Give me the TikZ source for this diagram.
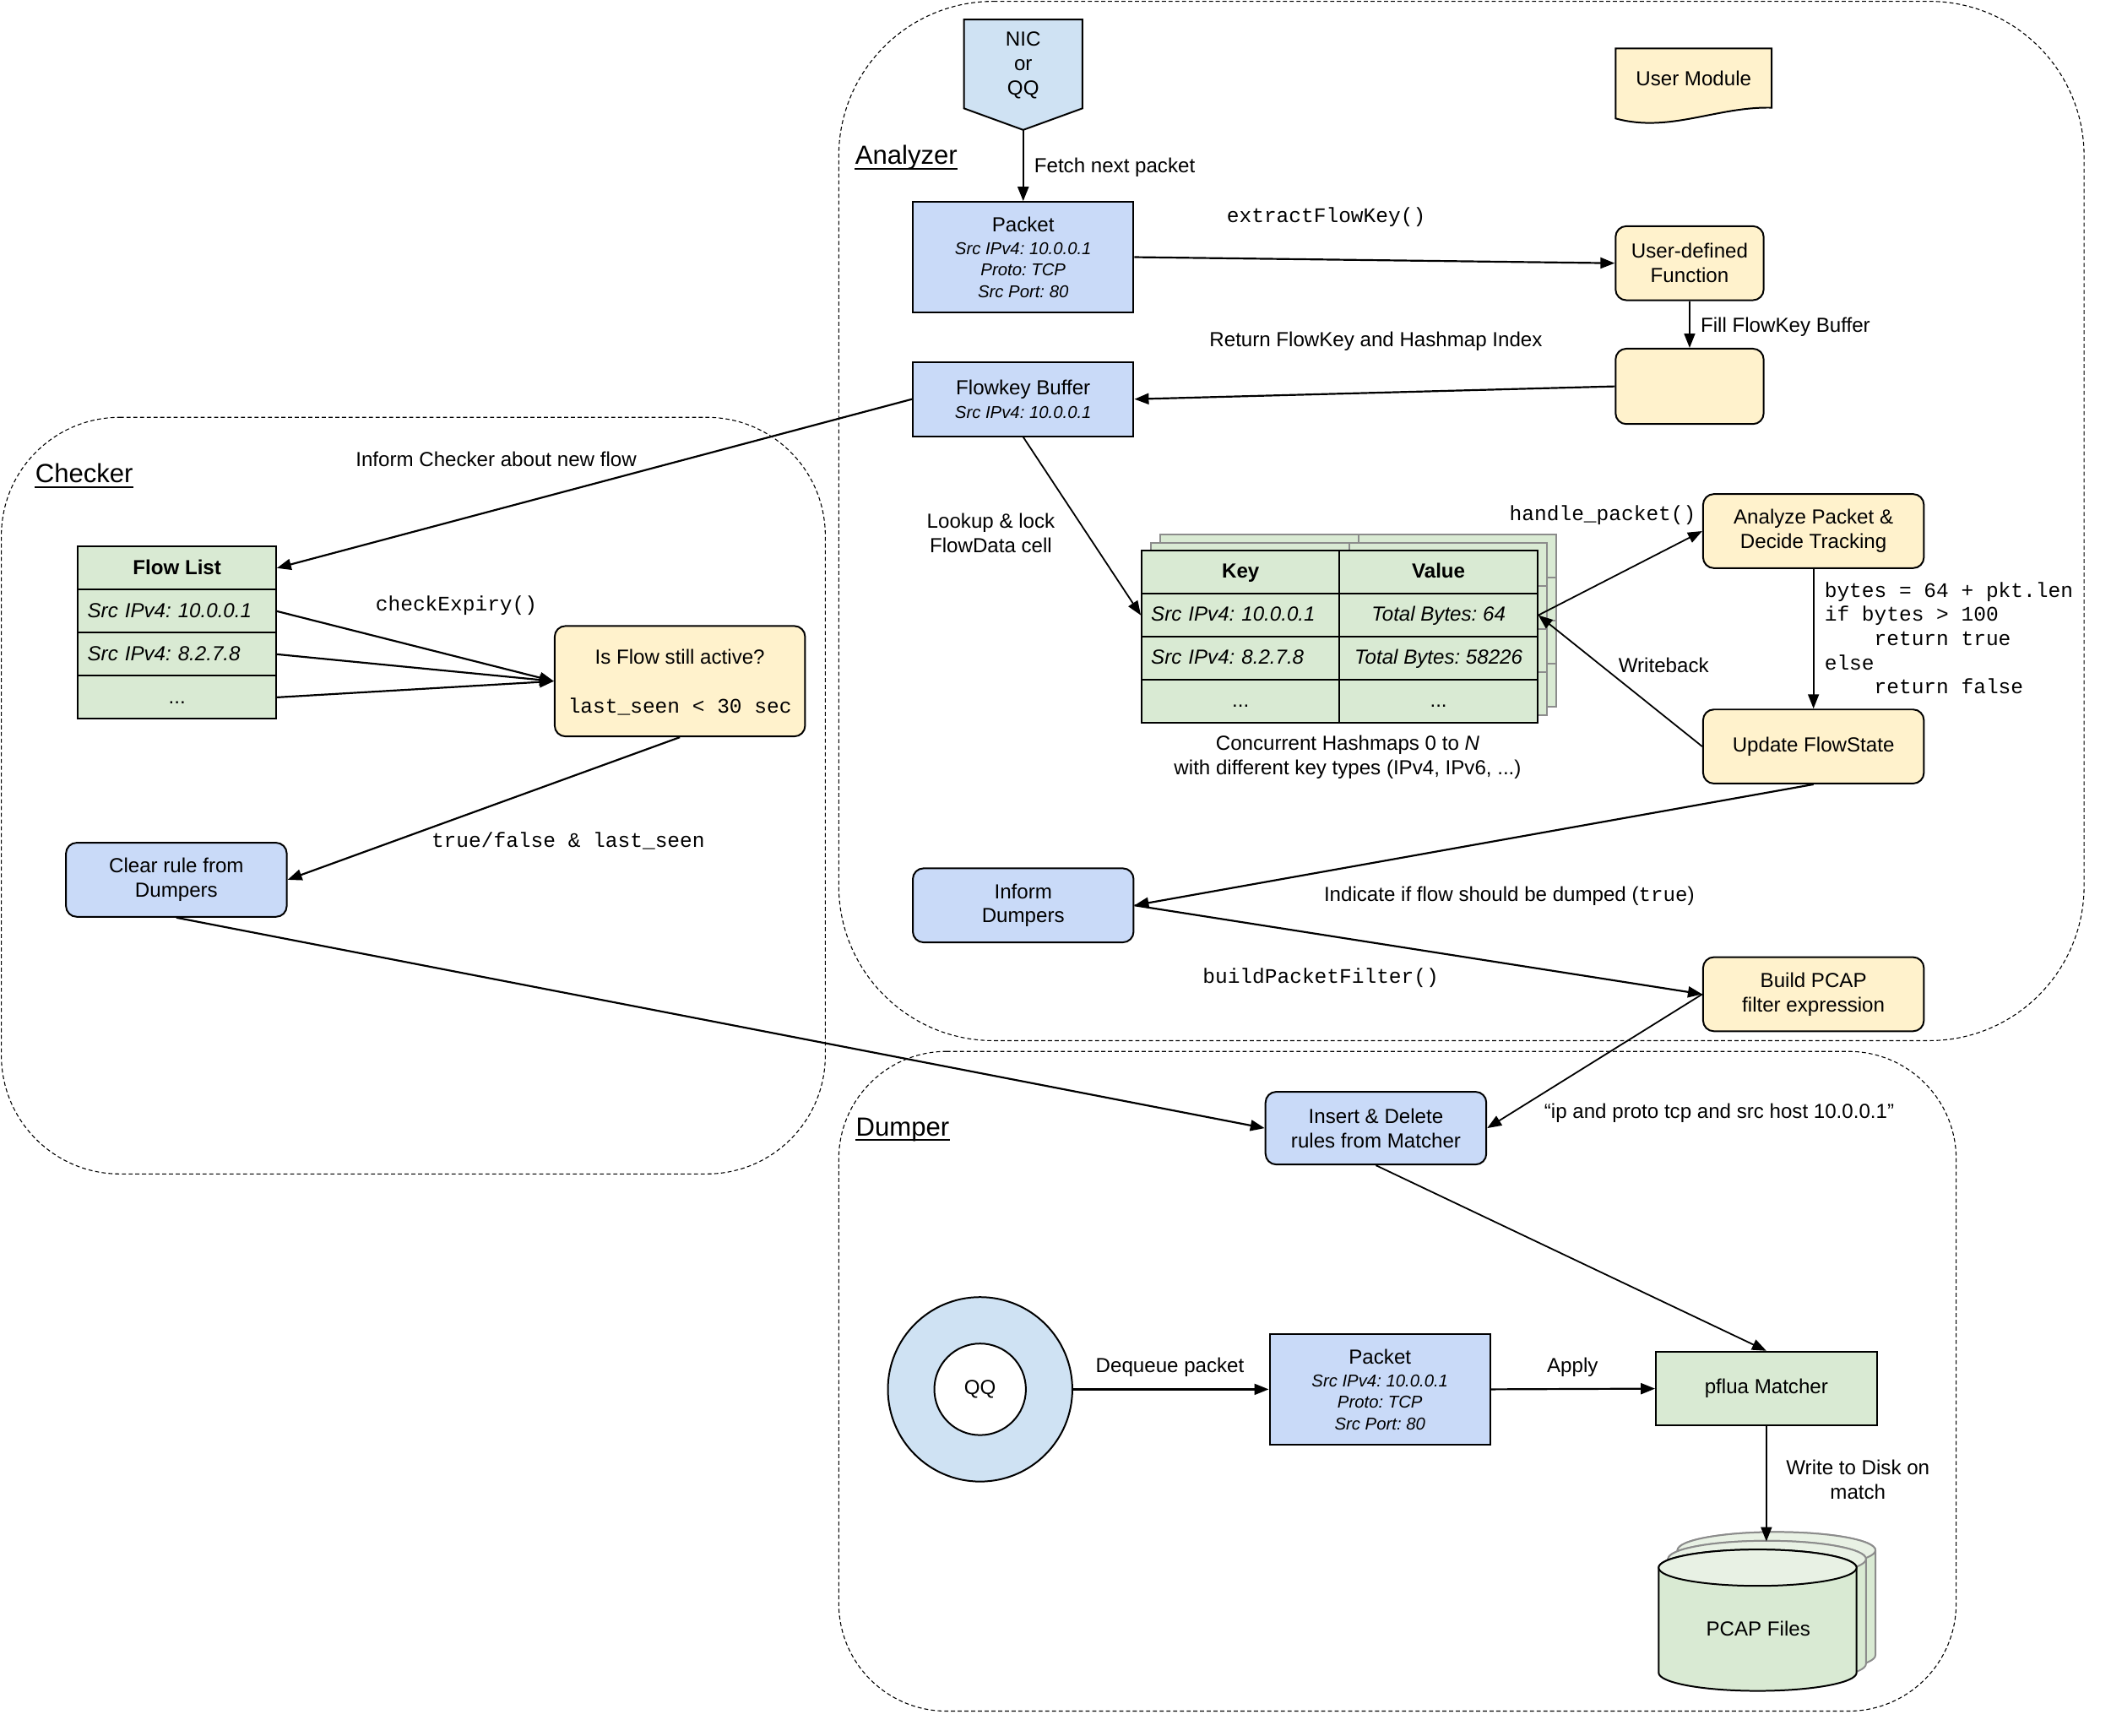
\documentclass[tikz,border=0pt]{standalone}
\usepackage{fontspec}
\setmainfont{Liberation Sans}
\setmonofont{Liberation Mono}
\usetikzlibrary{arrows.meta}
\definecolor{cblue}{HTML}{C9DAF8}
\definecolor{clblue}{HTML}{CFE2F3}
\definecolor{cyel}{HTML}{FFF2CC}
\definecolor{cgreen}{HTML}{D9EAD3}
\definecolor{cgreentop}{HTML}{E8F1E4}
\definecolor{cgrey}{HTML}{8C8C8C}
\newcommand\fnorm{\frenchspacing\fontsize{12.1}{14.4}\selectfont}
\newcommand\fdet{\frenchspacing\itshape\fontsize{10.2}{12.8}\selectfont}
\newcommand\fmono{\frenchspacing\ttfamily\fontsize{12.3}{14.4}\selectfont}
\newcommand\ftitle{\fontsize{15.6}{18}\selectfont}
\newcommand\contbox[5]{%
  \draw[cont] ({#1+#5},#2) -- ({#3-#5},#2)
    arc[start angle=90,end angle=0,radius=#5*0.8pt] -- (#3,{#4-#5})
    arc[start angle=0,end angle=-90,radius=#5*0.8pt] -- ({#1+#5},#4)
    arc[start angle=270,end angle=180,radius=#5*0.8pt] -- (#1,{#2+#5})
    arc[start angle=180,end angle=90,radius=#5*0.8pt] -- cycle;}
\newcommand\drawcyl[6]{%
  \path[draw=#6, fill=cgreen, line width=1pt] ({#1-#4},#2) -- ({#1-#4},#3)
    arc[start angle=180,end angle=360,x radius=#4*0.8pt,y radius=#5*0.8pt]
    -- ({#1+#4},#2)
    arc[start angle=0,end angle=180,x radius=#4*0.8pt,y radius=#5*0.8pt] -- cycle;
  \path[draw=#6, fill=cgreentop, line width=1pt] (#1,#2) ellipse[x radius=#4*0.8pt,y radius=#5*0.8pt];}
\newcommand\backtable[2]{%
  \path[backtab] ({848+#1},{409+#2}) rectangle ({1142+#1},{537+#2});
  \draw[draw=cgrey, line width=1pt] ({995+#1},{409+#2}) -- ({995+#1},{537+#2});
  \draw[draw=cgrey, line width=1pt] ({848+#1},{441+#2}) -- ({1142+#1},{441+#2});
  \draw[draw=cgrey, line width=1pt] ({848+#1},{473+#2}) -- ({1142+#1},{473+#2});
  \draw[draw=cgrey, line width=1pt] ({848+#1},{505+#2}) -- ({1142+#1},{505+#2});}
\begin{document}
\begin{tikzpicture}[x=0.8pt,y=-0.8pt,
  sz/.style 2 args={minimum width=#1*0.8pt, minimum height=#2*0.8pt},
  box/.style={draw, line width=1pt, inner sep=0pt, align=center, font=\fnorm},
  rbox/.style={box, rounded corners=6.4pt},
  lbl/.style={inner sep=0pt, font=\fnorm, text height=0.72em, text depth=0pt, align=center},
  lblm/.style={inner sep=0pt, font=\fnorm, align=center},
  det/.style={lbl, font=\fdet},
  mono/.style={lbl, font=\fmono},
  ttl/.style={inner sep=0pt, font=\ftitle, anchor=base west, text depth=0pt},
  arr/.style={draw, line width=1.1pt, -{Triangle[length=8.5pt,width=6.5pt]}},
  arrt/.style={arr, line width=0.9pt},
  cont/.style={draw, line width=0.55pt, dash pattern=on 2.4pt off 1.6pt},
  backtab/.style={draw=cgrey, fill=cgreen, line width=1pt},
  cell/.style={box, fill=cgreen, sz={147}{32}, text height=0.72em, text depth=0pt},
  lcell/.style={cell, align=left, text width=106.4pt, inner xsep=5.6pt, font=\fnorm\itshape},
  ulin/.style={line width=0.9pt}
]
\useasboundingbox (0,0) rectangle (1568,1289);

% containers
\contbox{1}{310}{613}{872}{88}
\contbox{623}{1}{1548}{773}{115}
\contbox{623}{781}{1453}{1271}{80}

\node[ttl] (tA) at (635,122) {Analyzer};
\draw[ulin] ([yshift=-2.6pt]tA.base west) -- ([yshift=-2.6pt]tA.base east);
\node[ttl] (tC) at (26,358.5) {Checker};
\draw[ulin] ([yshift=-2.6pt]tC.base west) -- ([yshift=-2.6pt]tC.base east);
\node[ttl] (tD) at (635.5,843.6) {Dumper};
\draw[ulin] ([yshift=-2.6pt]tD.base west) -- ([yshift=-2.6pt]tD.base east);

% ---------- Analyzer ----------
\draw[line width=1pt, fill=clblue] (716,14.5) -- (804,14.5) -- (804,80.5) -- (760,96.5) -- (716,80.5) -- cycle;
\coordinate (nictip) at (760,96.5);
\node[lblm] (nict) at (760,48.5) {NIC\\or\\QQ};

\draw[line width=1pt, fill=cyel] (1200,36) -- (1316,36) -- (1316,80) .. controls (1275,79) and (1240,99) .. (1200,88) -- cycle;
\node[lbl] (umt) at (1258,59) {User Module};

\node[box, fill=cblue, sz={164}{82}] (pkt) at (760,191) {};
\node[lbl] (pktt) at (760,167.5) {Packet};
\node[det] (pkt1) at (760,184.5) {Src IPv4: 10.0.0.1};
\node[det] (pkt2) at (760,200.5) {Proto: TCP};
\node[det] (pkt3) at (760,216.5) {Src Port: 80};

\node[rbox, fill=cyel, sz={110}{55}] (udf) at (1255,195.5) {User-defined\\Function};
\node[rbox, fill=cyel, sz={110}{56}] (emp) at (1255,287) {};

\node[box, fill=cblue, sz={164}{55}] (fkb) at (760,296.5) {};
\node[lbl] (fkbt) at (760,289) {Flowkey Buffer};
\node[det] (fkb1) at (760,306) {Src IPv4: 10.0.0.1};

% hashmap tables
\backtable{14}{-12}
\backtable{7}{-6}
\node[cell, font=\fnorm\bfseries] (hk0) at (921.5,425) {Key};
\node[cell, font=\fnorm\bfseries] (hv0) at (1068.5,425) {Value};
\node[lcell] (hk1) at (921.5,457) {Src IPv4: 10.0.0.1};
\node[cell, font=\fnorm\itshape] (hv1) at (1068.5,457) {Total Bytes: 64};
\node[lcell] (hk2) at (921.5,489) {Src IPv4: 8.2.7.8};
\node[cell, font=\fnorm\itshape] (hv2) at (1068.5,489) {Total Bytes: 58226};
\node[cell] (hk3) at (921.5,521) {...};
\node[cell] (hv3) at (1068.5,521) {...};
\node[lblm] (hcap) at (1001,562.5) {Concurrent Hashmaps 0 to \textit{N}\\with different key types (IPv4, IPv6, ...)};

\node[rbox, fill=cyel, sz={164}{55}] (apk) at (1347,394.5) {Analyze Packet \&\\Decide Tracking};
\node[rbox, fill=cyel, sz={164}{55}] (ufs) at (1347,554.5) {Update FlowState};
\node[rbox, fill=cblue, sz={164}{55}] (infd) at (760,672.5) {Inform\\Dumpers};
\node[rbox, fill=cyel, sz={164}{55}] (bpc) at (1347,738.5) {Build PCAP\\filter expression};

% ---------- Checker ----------
\node[cell, font=\fnorm\bfseries] (fl0) at (131.5,422) {Flow List};
\node[lcell] (fl1) at (131.5,454) {Src IPv4: 10.0.0.1};
\node[lcell] (fl2) at (131.5,486) {Src IPv4: 8.2.7.8};
\node[cell] (fl3) at (131.5,518) {...};

\node[rbox, fill=cyel, sz={186}{82}] (ifa) at (505,506) {};
\node[lbl] (ifat) at (505,489) {Is Flow still active?};
\node[mono] (ifam) at (505,525) {last\_seen < 30 sec};

\node[rbox, fill=cblue, sz={164}{55}] (clr) at (131,653.5) {Clear rule from\\Dumpers};

% ---------- Dumper ----------
\node[rbox, fill=cblue, sz={164}{54}] (ins) at (1022,838) {Insert \& Delete\\rules from Matcher};

\node[circle, draw, line width=1pt, fill=clblue, minimum size=137*0.8pt, inner sep=0pt] (qqo) at (728,1032) {};
\node[circle, draw, line width=1pt, fill=white, minimum size=68*0.8pt, inner sep=0pt, font=\fnorm] (qqi) at (728,1032) {QQ};

\node[box, fill=cblue, sz={164}{82}] (pk2) at (1025,1032) {};
\node[lbl] (pk2t) at (1025,1008.5) {Packet};
\node[det] (pk21) at (1025,1025.5) {Src IPv4: 10.0.0.1};
\node[det] (pk22) at (1025,1041.5) {Proto: TCP};
\node[det] (pk23) at (1025,1057.5) {Src Port: 80};

\node[box, fill=cgreen, sz={164}{55}] (pfl) at (1312,1031.5) {pflua Matcher};

\drawcyl{1319.5}{1151.5}{1229.5}{73.5}{13.5}{cgrey}
\drawcyl{1312.5}{1158}{1236}{73.5}{13.5}{cgrey}
\drawcyl{1305.5}{1164.5}{1242.5}{73.5}{13.5}{black}
\node[lbl] (pcapt) at (1306,1211) {PCAP Files};
\coordinate (cyltop) at (1312,1145);

% ---------- connectors ----------
\draw[arr] (nictip) -- (pkt.north);
\draw[arr] (pkt.east) -- (udf.west);
\draw[arrt] (udf.south) -- (emp.north);
\draw[arr] (emp.west) -- (fkb.east);
\draw[arr] (fkb.west) -- (fl0.east);
\draw[arrt] (fkb.south) -- (hk1.west);
\draw[arrt] (hv1.east) -- (apk.west);
\draw[arrt] (apk.south) -- (ufs.north);
\draw[arrt] (ufs.west) -- (hv1.east);
\draw[arr] (ufs.south) -- (infd.east);
\draw[arr] (infd.east) -- (bpc.west);
\draw[arrt] (bpc.west) -- (ins.east);
\draw[arr] (clr.south) -- (ins.west);
\draw[arrt] (ins.south) -- (pfl.north);
\draw[arr] (qqo.east) -- (pk2.west);
\draw[arr] (pk2.east) -- (pfl.west);
\draw[arrt] (pfl.south) -- (cyltop);
\draw[arr] (fl1.east) -- (ifa.west);
\draw[arr] (fl2.east) -- (ifa.west);
\draw[arr] (fl3.east) -- (ifa.west);
\draw[arr] (ifa.south) -- (clr.east);

% ---------- labels ----------
\node[lbl, anchor=west] (l1) at (768,124) {Fetch next packet};
\node[mono, anchor=west] (l2) at (911,161) {extractFlowKey()};
\node[lbl, anchor=west] (l3) at (1263,242) {Fill FlowKey Buffer};
\node[lbl] (l4) at (1022,253) {Return FlowKey and Hashmap Index};
\node[lbl, anchor=west] (l5) at (264,342) {Inform Checker about new flow};
\node[lblm] (l6) at (736,396) {Lookup \& lock\\FlowData cell};
\node[mono, anchor=west] (l7) at (1121,382) {handle\_packet()};
\node[mono, anchor=west] (c1) at (1355,439) {bytes = 64 + pkt.len};
\node[mono, anchor=west] (c2) at (1355,457) {if bytes > 100};
\node[mono, anchor=west] (c3) at (1355,475) {\hphantom{xxxx}return true};
\node[mono, anchor=west] (c4) at (1355,493) {else};
\node[mono, anchor=west] (c5) at (1355,511) {\hphantom{xxxx}return false};
\node[lbl, anchor=west] (l8) at (1202,495) {Writeback};
\node[lbl] (l9) at (1121,665) {Indicate if flow should be dumped (\texttt{true})};
\node[mono] (l10) at (981,726) {buildPacketFilter()};
\node[lbl] (l11) at (1277,826) {“ip and proto tcp and src host 10.0.0.1”};
\node[lbl] (l12) at (869,1015) {Dequeue packet};
\node[lbl] (l13) at (1168,1015) {Apply};
\node[lblm] (l14) at (1380,1099) {Write to Disk on\\match};
\node[mono] (l15) at (339,449) {checkExpiry()};
\node[mono] (l16) at (422,625) {true/false \& last\_seen};
\end{tikzpicture}
\end{document}
